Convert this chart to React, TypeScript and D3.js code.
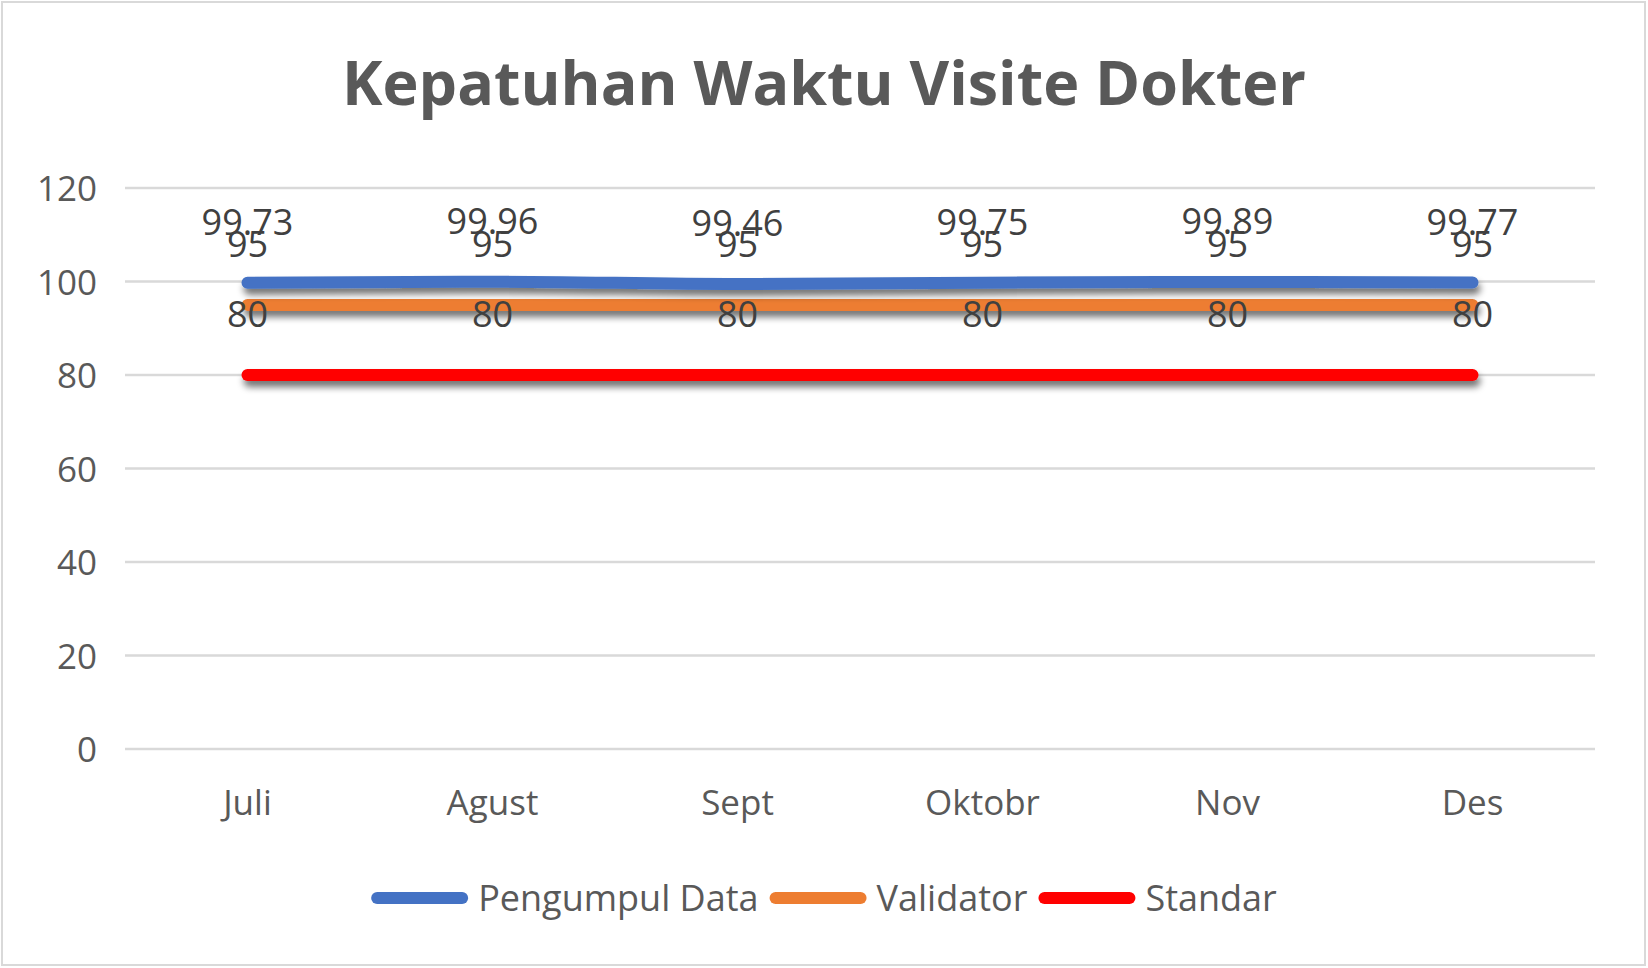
import React, { useEffect, useRef } from "react";
import * as d3 from "d3";

const categories = ["Juli", "Agust", "Sept", "Oktobr", "Nov", "Des"];
const pengumpulData = [99.73, 99.96, 99.46, 99.75, 99.89, 99.77];
const validator = [95, 95, 95, 95, 95, 95];
const standar = [80, 80, 80, 80, 80, 80];
const yTicks = [0, 20, 40, 60, 80, 100, 120];
const seriesNames = ["Pengumpul Data", "Validator", "Standar"];
const seriesColors = ["#4472C4", "#ED7D31", "#FF0000"];
const title = "Kepatuhan Waktu Visite Dokter";

const W = 1648;
const H = 968;
const FONT = "'Open Sans', 'Noto Sans', sans-serif";

export default function App() {
  const ref = useRef<SVGSVGElement | null>(null);

  useEffect(() => {
    const svg = d3.select(ref.current);
    svg.selectAll("*").remove();

    const defs = svg.append("defs");
    const f = defs
      .append("filter")
      .attr("id", "shadow")
      .attr("filterUnits", "userSpaceOnUse")
      .attr("x", 0)
      .attr("y", 0)
      .attr("width", W)
      .attr("height", H);
    f.append("feGaussianBlur").attr("in", "SourceAlpha").attr("stdDeviation", 3.5).attr("result", "b");
    f.append("feOffset").attr("in", "b").attr("dx", 2).attr("dy", 6).attr("result", "o");
    f.append("feComponentTransfer")
      .attr("in", "o")
      .attr("result", "s")
      .append("feFuncA")
      .attr("type", "linear")
      .attr("slope", 0.55);
    const m = f.append("feMerge");
    m.append("feMergeNode").attr("in", "s");
    m.append("feMergeNode").attr("in", "SourceGraphic");

    svg.append("rect")
      .attr("x", 2).attr("y", 2).attr("width", W - 5).attr("height", H - 5)
      .attr("fill", "#fff").attr("stroke", "#d9d9d9").attr("stroke-width", 2);

    const left = 125, right = 1595, top = 188, bottom = 749;
    const x = d3.scaleBand<string>().domain(categories).range([left, right]);
    const y = d3.scaleLinear().domain([0, 120]).range([bottom, top]);
    const cx = (c: string) => (x(c) as number) + x.bandwidth() / 2;

    svg.append("text")
      .attr("x", W / 2).attr("y", 105)
      .attr("text-anchor", "middle")
      .attr("font-family", FONT).attr("font-weight", 700).attr("font-size", 61)
      .attr("fill", "#595959")
      .text(title);

    const g = svg.append("g");
    g.selectAll("line.grid").data(yTicks).join("line")
      .attr("class", "grid")
      .attr("x1", left).attr("x2", right)
      .attr("y1", (d) => y(d)).attr("y2", (d) => y(d))
      .attr("stroke", "#d9d9d9").attr("stroke-width", 2.5);

    g.selectAll("text.ytick").data(yTicks).join("text")
      .attr("class", "ytick")
      .attr("x", 97).attr("y", (d) => y(d) + 13)
      .attr("text-anchor", "end")
      .attr("font-family", FONT).attr("font-size", 35).attr("fill", "#595959")
      .text((d) => d);

    g.selectAll("text.xtick").data(categories).join("text")
      .attr("class", "xtick")
      .attr("x", (d) => cx(d)).attr("y", 815)
      .attr("text-anchor", "middle")
      .attr("font-family", FONT).attr("font-size", 35).attr("fill", "#595959")
      .text((d) => d);

    const series = [pengumpulData, validator, standar];
    const line = d3.line<number>()
      .x((_, i) => cx(categories[i]))
      .y((d) => y(d))
      .curve(d3.curveMonotoneX);

    [2, 1, 0].forEach((si) => {
      svg.append("path")
        .datum(series[si])
        .attr("d", line)
        .attr("fill", "none")
        .attr("stroke", seriesColors[si])
        .attr("stroke-width", 12)
        .attr("stroke-linecap", "round")
        .attr("stroke-linejoin", "round")
        .attr("filter", "url(#shadow)");
    });

    series.forEach((s) => {
      svg.append("g").selectAll("text").data(s).join("text")
        .attr("x", (_, i) => cx(categories[i]))
        .attr("y", (d) => y(d) - 48)
        .attr("text-anchor", "middle")
        .attr("font-family", FONT).attr("font-size", 36).attr("fill", "#404040")
        .text((d) => d3.format("")(d));
    });

    // legend
    const lg = svg.append("g");
    const lineLen = 97, gap1 = 10, gap2 = 11, ly = 898;
    const items = seriesNames.map((n, i) => {
      const t = lg.append("text")
        .attr("font-family", FONT).attr("font-size", 36).attr("fill", "#595959")
        .attr("y", ly + 13)
        .text(n);
      const w = (t.node() as SVGTextElement).getComputedTextLength();
      return { t, w, i };
    });
    const total = items.reduce((a, it) => a + lineLen + gap1 + it.w, 0) + gap2 * (items.length - 1);
    let cur = W / 2 - total / 2;
    items.forEach((it) => {
      lg.append("line")
        .attr("x1", cur + 6).attr("x2", cur + lineLen - 6)
        .attr("y1", ly).attr("y2", ly)
        .attr("stroke", seriesColors[it.i]).attr("stroke-width", 12)
        .attr("stroke-linecap", "round");
      it.t.attr("x", cur + lineLen + gap1);
      cur += lineLen + gap1 + it.w + gap2;
    });
  }, []);

  return (
    <svg
      ref={ref}
      width={W}
      height={H}
      style={{ position: "absolute", left: 0, top: 0, background: "#fff" }}
    />
  );
}
